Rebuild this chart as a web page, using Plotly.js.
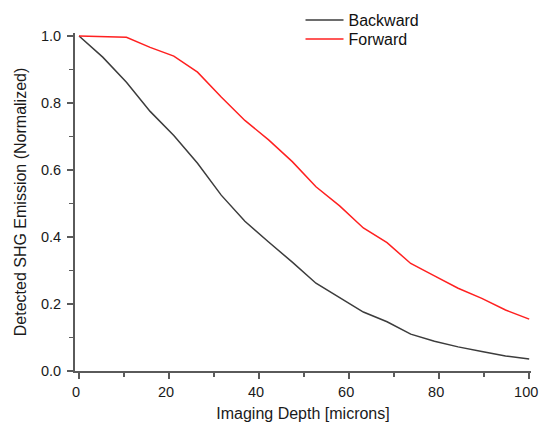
<!DOCTYPE html>
<html>
<head>
<meta charset="utf-8">
<script src="https://cdn.plot.ly/plotly-3.0.1.min.js"></script>
<style>html,body{margin:0;padding:0;background:#fff;}#chart{width:540px;height:425px;}</style>
</head>
<body>
<div id="chart"></div>
<script>
const depth = [0, 5.26, 10.53, 15.79, 21.05, 26.32, 31.58, 36.84, 42.11, 47.37, 52.63, 57.89, 63.16, 68.42, 73.68, 78.95, 84.21, 89.47, 94.74, 100];
const backward = [1.0, 0.937, 0.862, 0.775, 0.703, 0.62, 0.525, 0.447, 0.385, 0.325, 0.262, 0.218, 0.176, 0.147, 0.11, 0.089, 0.072, 0.058, 0.045, 0.036];
const forward = [1.0, 0.999, 0.996, 0.966, 0.94, 0.892, 0.818, 0.748, 0.69, 0.625, 0.55, 0.493, 0.427, 0.383, 0.321, 0.284, 0.247, 0.217, 0.182, 0.155];
const xTicks = [0, 20, 40, 60, 80, 100];
const yTicks = [0.0, 0.2, 0.4, 0.6, 0.8, 1.0];
const yTickText = ['0.0', '0.2', '0.4', '0.6', '0.8', '1.0'];

const font = 'Liberation Sans, Arial, sans-serif';
const traces = [
  {x: depth, y: backward, name: 'Backward', mode: 'lines', line: {color: '#3c3c3c', width: 1.5}, legend: 'legend'},
  {x: depth, y: forward, name: 'Forward', mode: 'lines', line: {color: '#ff2020', width: 1.5}, legend: 'legend2'}
];
const axisCommon = {
  showgrid: false, zeroline: false, showline: true, linecolor: '#5a5a5a', linewidth: 2,
  ticks: 'outside', ticklen: 6, tickwidth: 1.5, tickcolor: '#5a5a5a',
  tickfont: {family: font, size: 14.5, color: '#1a1a1a'},
  automargin: false,
  minor: {ticks: 'outside', ticklen: 4, tickwidth: 1.5, tickcolor: '#5a5a5a'}
};
const legendCommon = {xref: 'container', yref: 'container', xanchor: 'left', yanchor: 'middle',
  bgcolor: 'rgba(0,0,0,0)', font: {family: font, size: 16, color: '#111'}, itemwidth: 38};
const layout = {
  width: 540, height: 425,
  margin: {l: 75, r: 9, t: 33, b: 54, autoexpand: false},
  paper_bgcolor: '#fff', plot_bgcolor: '#fff',
  showlegend: true,
  legend: Object.assign({x: 0.5565, y: 0.9529}, legendCommon),
  legend2: Object.assign({x: 0.5565, y: 0.9082}, legendCommon),
  xaxis: Object.assign({}, axisCommon, {
    range: [-0.9, 100.4], tickvals: xTicks, ticktext: xTicks.map(String),
    ticklabelshift: -3, ticklabelstandoff: 1,
    minor: Object.assign({}, axisCommon.minor, {dtick: 10}),
    title: {text: 'Imaging Depth [microns]', font: {family: font, size: 16, color: '#1a1a1a'}, standoff: 8}
  }),
  yaxis: Object.assign({}, axisCommon, {
    range: [0, 1.009], tickvals: yTicks, ticktext: yTickText,
    ticklabelstandoff: 3,
    minor: Object.assign({}, axisCommon.minor, {dtick: 0.1}),
    title: {text: 'Detected SHG Emission (Normalized)', font: {family: font, size: 16, color: '#1a1a1a'}, standoff: 10}
  })
};
Plotly.newPlot('chart', traces, layout, {displayModeBar: false, staticPlot: true});
</script>
</body>
</html>
